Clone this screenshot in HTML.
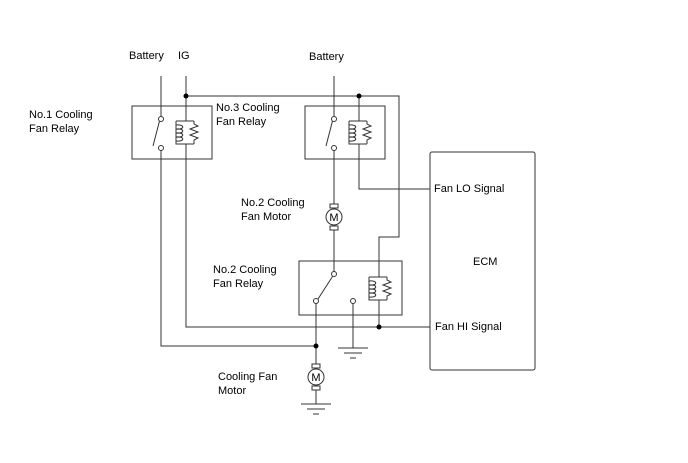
<!DOCTYPE html>
<html><head><style>
body{margin:0;background:#fff}
svg{display:block}
text{font-family:"Liberation Sans",sans-serif;font-size:11px;fill:#000}
</style></head><body>
<svg width="688" height="463" viewBox="0 0 688 463" xmlns="http://www.w3.org/2000/svg">
<defs>
<g id="coil" fill="none" stroke="#333" stroke-width="1">
 <path d="M0,0 V4 M-10,4 H8 M-10,4 V27 H8 M0,27 V31"/>
 <path d="M-10,8 C-1,7 -1,13 -10,12 M-10,12 C-1,11 -1,17 -10,16 M-10,16 C-1,15 -1,21 -10,20 M-10,20 C-1,19 -1,25 -10,24" />
 <path d="M8,4 V7 L12,9 L4,12 L12,15 L4,18 L12,21 L8,23 V27"/>
</g>
<g id="motor" fill="none" stroke="#333" stroke-width="1">
 <rect x="-4" y="-13" width="8" height="4" fill="#fff"/>
 <rect x="-4" y="9" width="8" height="4" fill="#fff"/>
 <circle cx="0" cy="0" r="8" fill="#fff"/>
</g>
<g id="gnd" stroke="#333" stroke-width="1">
 <path d="M-15,0 H15 M-9,5 H9 M-3,10 H3"/>
</g>
</defs>
<g fill="none" stroke="#333" stroke-width="1">
 <rect x="132" y="106" width="80" height="53"/>
 <rect x="305" y="106" width="80" height="53"/>
 <rect x="299" y="261" width="103" height="54"/>
 <rect x="430" y="152" width="105" height="218" rx="2"/>
 <path d="M161,76 V116.5 M161,150.5 V346 H316"/>
 <path d="M159.5,121 L153,146"/>
 <path d="M186,76 V117 M186,148 V327 H430"/>
 <path d="M186,96 H399 V237 H379 V273"/>
 <path d="M334,76 V116.5 M334,150.5 V204"/>
 <path d="M332.5,121 L326,146"/>
 <path d="M359,96 V117 M359,148 V189 H430"/>
 <path d="M334,230 V271.5"/>
 <path d="M332.5,276.5 L318,299"/>
 <path d="M316,303.5 V364 M316,390 V404"/>
 <path d="M353,303.5 V348"/>
 <path d="M379,304 V327"/>
</g>
<g fill="#fff" stroke="#333" stroke-width="1">
 <circle cx="161" cy="119" r="2.5"/><circle cx="161" cy="148" r="2.5"/>
 <circle cx="334" cy="119" r="2.5"/><circle cx="334" cy="148" r="2.5"/>
 <circle cx="334" cy="274" r="2.5"/><circle cx="316" cy="301" r="2.5"/><circle cx="353" cy="301" r="2.5"/>
</g>
<use href="#coil" x="186" y="117"/>
<use href="#coil" x="359" y="117"/>
<use href="#coil" x="379" y="273"/>
<use href="#motor" x="334" y="217"/>
<use href="#motor" x="316" y="377"/>
<use href="#gnd" x="353" y="348"/>
<use href="#gnd" x="316" y="404"/>
<g fill="#000">
 <circle cx="186" cy="96" r="2.5"/><circle cx="359" cy="96" r="2.5"/>
 <circle cx="379" cy="327" r="2.5"/><circle cx="316" cy="346" r="2.5"/>
</g>
<text x="334" y="221" font-size="9" text-anchor="middle">M</text>
<text x="316" y="381" font-size="9" text-anchor="middle">M</text>
<text x="129" y="59">Battery</text>
<text x="178" y="59">IG</text>
<text x="309" y="60">Battery</text>
<text x="29" y="118">No.1 Cooling</text>
<text x="29" y="132">Fan Relay</text>
<text x="216" y="111">No.3 Cooling</text>
<text x="216" y="125">Fan Relay</text>
<text x="241" y="206">No.2 Cooling</text>
<text x="241" y="220">Fan Motor</text>
<text x="213" y="273">No.2 Cooling</text>
<text x="213" y="287">Fan Relay</text>
<text x="218" y="380">Cooling Fan</text>
<text x="218" y="394">Motor</text>
<text x="434" y="192">Fan LO Signal</text>
<text x="473" y="265">ECM</text>
<text x="435" y="330">Fan HI Signal</text>
</svg>
</body></html>
